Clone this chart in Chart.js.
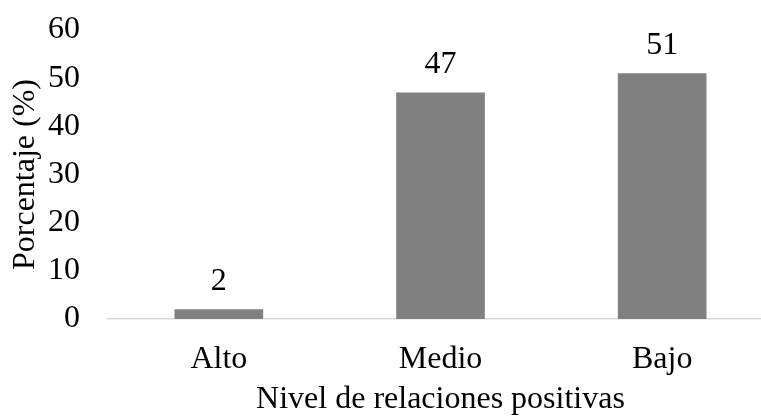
<!DOCTYPE html>
<html>
<head>
<meta charset="utf-8">
<script src="https://cdn.jsdelivr.net/npm/chart.js@4"></script>
<style>
  html, body { margin: 0; padding: 0; background: #fff; overflow: hidden; }
  #wrap { position: relative; width: 761px; height: 416px; overflow: hidden; }
  canvas { display: block; }
</style>
</head>
<body>
<div id="wrap"><canvas id="c" width="773" height="416"></canvas></div>
<script>
const categories = ['Alto', 'Medio', 'Bajo'];
const percentages = [2, 47, 51];
const yTicks = [0, 10, 20, 30, 40, 50, 60];

const FONT = '"Liberation Serif", "Times New Roman", serif';

// Value labels above each bar, positioned from the bar elements
const valueLabels = {
  id: 'valueLabels',
  afterDatasetsDraw(chart) {
    const ctx = chart.ctx;
    const meta = chart.getDatasetMeta(0);
    ctx.save();
    ctx.font = '32px ' + FONT;
    ctx.fillStyle = '#000';
    ctx.textAlign = 'center';
    ctx.textBaseline = 'middle';
    meta.data.forEach((bar, i) => {
      ctx.fillText(String(percentages[i]), bar.x, bar.y - 28);
    });
    ctx.restore();
  }
};

new Chart(document.getElementById('c'), {
  type: 'bar',
  data: {
    labels: categories,
    datasets: [{
      data: percentages,
      backgroundColor: '#808080',
      borderWidth: 0,
      categoryPercentage: 1,
      barPercentage: 0.4
    }]
  },
  options: {
    responsive: false,
    animation: false,
    devicePixelRatio: 1,
    layout: { padding: { top: 30, right: 0, bottom: 0, left: 0 } },
    plugins: { legend: { display: false }, tooltip: { enabled: false } },
    scales: {
      x: {
        grid: { display: false, drawTicks: false },
        border: { display: true, color: '#d9d9d9', width: 1.5 },
        ticks: { color: '#000', font: { family: FONT, size: 32 }, padding: 21 },
        title: {
          display: true,
          text: 'Nivel de relaciones positivas',
          color: '#000',
          font: { family: FONT, size: 32, lineHeight: 1 },
          padding: { top: 0, bottom: 0 }
        },
        afterFit(scale) {
          scale.height = 97;
          scale.paddingLeft = 0;
          scale.paddingRight = 0;
        }
      },
      y: {
        min: 0,
        max: 60,
        afterBuildTicks(scale) { scale.ticks = yTicks.map(v => ({ value: v })); },
        grid: { display: false, drawTicks: false },
        border: { display: false },
        ticks: { color: '#000', font: { family: FONT, size: 32 }, padding: 28 },
        title: {
          display: true,
          text: 'Porcentaje (%)',
          color: '#000',
          font: { family: FONT, size: 32, lineHeight: 1.2 },
          padding: { top: 6, bottom: 0 }
        },
        afterFit(scale) {
          scale.width = 108;
          scale.paddingTop = 0;
          scale.paddingBottom = 0;
        }
      }
    }
  },
  plugins: [valueLabels]
});
</script>
</body>
</html>
